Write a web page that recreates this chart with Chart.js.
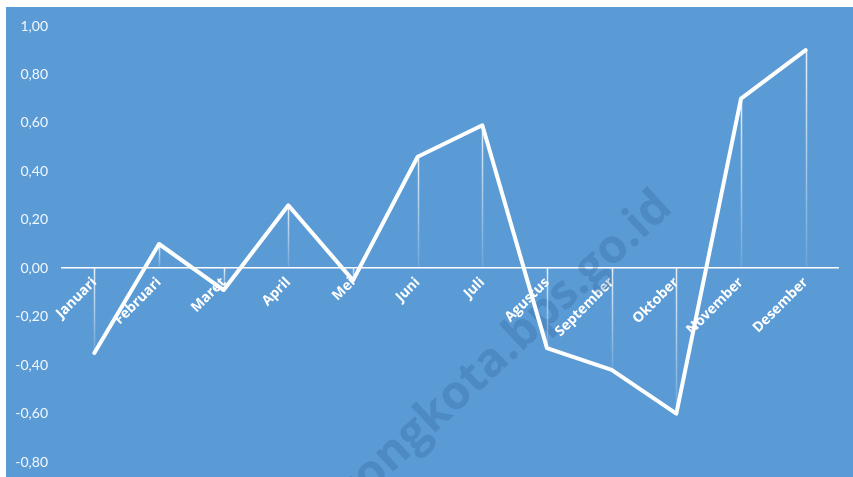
<!DOCTYPE html>
<html>
<head>
<meta charset="utf-8">
<script src="https://cdn.jsdelivr.net/npm/chart.js@4/dist/chart.umd.min.js"></script>
<style>
    html, body { margin: 0; padding: 0; background: #fff; }
    #wrap { position: relative; width: 853px; height: 477px; }
</style>
</head>
<body>
<div id="wrap"><canvas id="inflasi-chart"></canvas></div>
<script>
(function() {
    'use strict';

    const months = ['Januari', 'Februari', 'Maret', 'April', 'Mei', 'Juni',
        'Juli', 'Agustus', 'September', 'Oktober', 'November', 'Desember'];
    const values = [-0.35, 0.10, -0.09, 0.26, -0.05, 0.46,
        0.59, -0.33, -0.42, -0.60, 0.70, 0.90];
    const yTicks = [-0.8, -0.6, -0.4, -0.2, 0, 0.2, 0.4, 0.6, 0.8, 1.0];
    const watermark = 'sorongkota.bps.go.id';

    const BG = '#5b9bd5';

    // latar biru dengan tepi putih di kiri dan atas
    const background = {
        id: 'background',
        beforeDraw(chart) {
            const ctx = chart.ctx;
            ctx.save();
            ctx.fillStyle = '#ffffff';
            ctx.fillRect(0, 0, chart.width, chart.height);
            ctx.fillStyle = BG;
            ctx.fillRect(6, 7, chart.width - 6, chart.height - 7);
            ctx.restore();
        },
    };

    // teks watermark miring
    const stamp = {
        id: 'stamp',
        beforeDatasetsDraw(chart) {
            const ctx = chart.ctx;
            ctx.save();
            ctx.translate(674, 210);
            ctx.rotate(-43 * Math.PI / 180);
            ctx.font = 'bold 47px "Open Sans", sans-serif';
            ctx.textAlign = 'right';
            ctx.textBaseline = 'alphabetic';
            ctx.fillStyle = 'rgba(35, 85, 145, 0.25)';
            ctx.fillText(watermark, 0, 0);
            ctx.restore();
        },
    };

    // garis jatuh dari titik ke sumbu nol
    const dropLines = {
        id: 'dropLines',
        beforeDatasetsDraw(chart) {
            const { ctx, scales: { x, y } } = chart;
            const y0 = y.getPixelForValue(0);
            ctx.save();
            ctx.lineWidth = 1.5;
            values.forEach((v, i) => {
                const px = Math.round(x.getPixelForValue(i)) + 0.5;
                const py = y.getPixelForValue(v);
                const top = Math.min(py, y0);
                const bottom = Math.max(py, y0);
                const grad = ctx.createLinearGradient(0, top, 0, bottom);
                grad.addColorStop(0, 'rgba(255,255,255,0.85)');
                grad.addColorStop(1, 'rgba(255,255,255,0.1)');
                ctx.strokeStyle = grad;
                ctx.beginPath();
                ctx.moveTo(px, top);
                ctx.lineTo(px, bottom);
                ctx.stroke();
            });
            ctx.restore();
        },
    };

    function initChart() {
        const canvas = document.getElementById('inflasi-chart');
        new Chart(canvas, {
            type: 'line',
            data: {
                labels: months,
                datasets: [{
                    label: 'Inflasi',
                    data: values,
                    borderColor: '#ffffff',
                    borderWidth: 4,
                    borderJoinStyle: 'round',
                    borderCapStyle: 'round',
                    pointRadius: 0,
                    tension: 0,
                    fill: false,
                }],
            },
            options: {
                responsive: true,
                maintainAspectRatio: false,
                animation: false,
                layout: { padding: { top: 26, right: 15, bottom: 15, left: 0 } },
                plugins: {
                    legend: { display: false },
                    tooltip: { enabled: false },
                },
                scales: {
                    x: {
                        offset: true,
                        position: { y: 0 },
                        afterFit: scale => {
                            scale.height = 0;
                            scale.paddingLeft = 0;
                            scale.paddingRight = 0;
                        },
                        grid: { display: false, drawTicks: false, offset: true },
                        border: { display: true, color: '#ffffff', width: 1.5 },
                        ticks: {
                            autoSkip: false,
                            minRotation: 45,
                            maxRotation: 45,
                            padding: 6,
                            color: '#ffffff',
                            font: { family: 'Open Sans', size: 14, weight: 'bold' },
                        },
                    },
                    y: {
                        min: -0.8,
                        max: 1.0,
                        afterFit: scale => {
                            scale.width = 62;
                            scale.paddingTop = 0;
                            scale.paddingBottom = 0;
                        },
                        afterBuildTicks: scale => {
                            scale.ticks = yTicks.map(v => ({ value: v }));
                        },
                        grid: { display: false, drawTicks: false },
                        border: { display: false },
                        ticks: {
                            padding: 14,
                            color: 'rgba(255,255,255,0.92)',
                            font: { family: 'Lato', size: 14 },
                            callback: v => Number(v).toFixed(2).replace('.', ','),
                        },
                    },
                },
            },
            plugins: [background, stamp, dropLines],
        });
    }

    if (document.readyState === 'loading') {
        document.addEventListener('DOMContentLoaded', initChart);
    } else {
        initChart();
    }
})();
</script>
</body>
</html>
